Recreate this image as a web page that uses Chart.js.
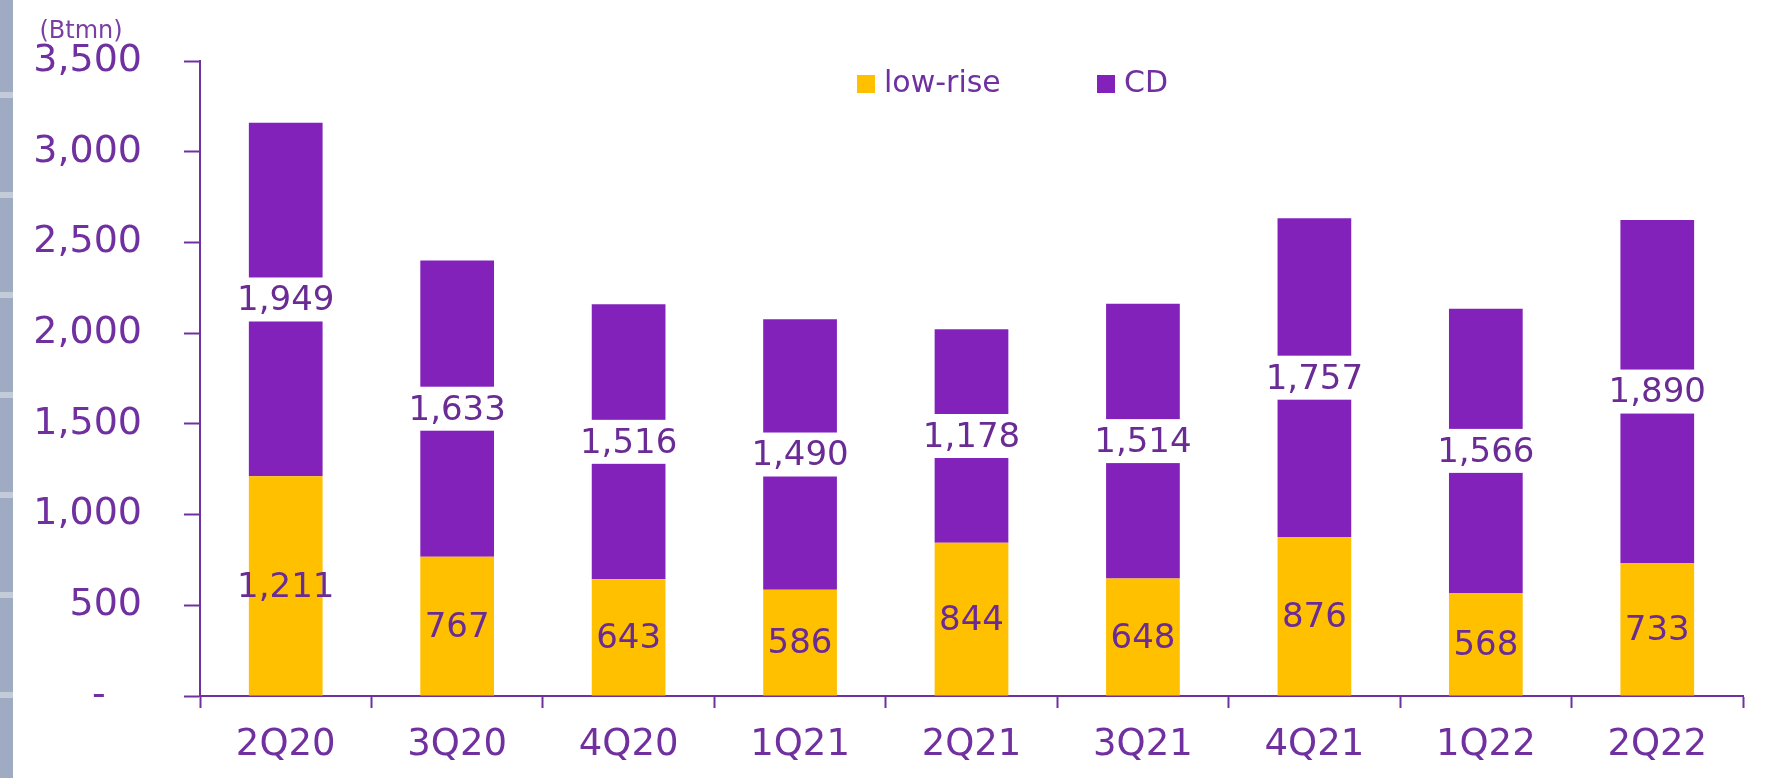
<!DOCTYPE html>
<html>
<head>
<meta charset="utf-8">
<script src="https://cdn.jsdelivr.net/npm/chart.js@4.4.0/dist/chart.umd.min.js"></script>
<style>
  html, body { margin: 0; padding: 0; background: #fff; }
  #wrap { position: relative; width: 1772px; height: 778px; }
  #stripe {
    position: absolute; left: 0; top: 0; width: 13px; height: 778px;
    background: repeating-linear-gradient(180deg, #9fabc2 0px, #9fabc2 92px, #c3cad8 92px, #c3cad8 98px, #9fabc2 98px, #9fabc2 100px);
  }
</style>
</head>
<body>
<div id="wrap">
  <canvas id="chart" width="1772" height="778"></canvas>
  <div id="stripe"></div>
</div>
<script>
// data (Btmn)
const quarters = ["2Q20", "3Q20", "4Q20", "1Q21", "2Q21", "3Q21", "4Q21", "1Q22", "2Q22"];
const lowRise = [1211, 767, 643, 586, 844, 648, 876, 568, 733];
const cd = [1949, 1633, 1516, 1490, 1178, 1514, 1757, 1566, 1890];
const yMax = 3500;
const yStep = 500;

const PURPLE = "#7030a0";
const BAR_PURPLE = "#8222bb";
const YELLOW = "#ffc000";
const FONT = "'DejaVu Sans', Verdana, sans-serif";

const fmt = (v) => v.toLocaleString("en-US");

// value labels in the middle of each segment, CD ones on a white box
const segmentLabels = {
    id: "segmentLabels",
    afterDatasetsDraw(chart) {
        const ctx = chart.ctx;
        ctx.save();
        ctx.font = "34px " + FONT;
        ctx.textAlign = "center";
        ctx.textBaseline = "middle";
        chart.data.datasets.forEach((ds, di) => {
            const meta = chart.getDatasetMeta(di);
            meta.data.forEach((bar, i) => {
                const cy = (bar.y + bar.base) / 2;
                const txt = fmt(ds.data[i]);
                if (ds.label === "CD") {
                    const w = Math.max(ctx.measureText(txt).width, bar.width) + 6;
                    ctx.fillStyle = "#fff";
                    ctx.fillRect(bar.x - w / 2, cy - 22, w, 44);
                }
                ctx.fillStyle = "#6a2c94";
                ctx.fillText(txt, bar.x, cy + 2);
            });
        });
        ctx.restore();
    }
};

// legend and unit label
const extras = {
    id: "extras",
    afterDraw(chart) {
        const ctx = chart.ctx;
        ctx.save();
        ctx.textBaseline = "middle";
        ctx.textAlign = "left";
        ctx.font = "30px " + FONT;
        const items = [
            { text: "low-rise", color: YELLOW, x: 857 },
            { text: "CD", color: BAR_PURPLE, x: 1097 }
        ];
        items.forEach((it) => {
            ctx.fillStyle = it.color;
            ctx.fillRect(it.x, 75, 18, 18);
            ctx.fillStyle = PURPLE;
            ctx.fillText(it.text, it.x + 27, 84);
        });
        ctx.font = "24px " + FONT;
        ctx.textAlign = "center";
        ctx.fillStyle = "#7b3fa3";
        ctx.fillText("(Btmn)", 81, 32);
        ctx.restore();
    }
};

new Chart(document.getElementById("chart"), {
    type: "bar",
    data: {
        labels: quarters,
        datasets: [
            { label: "low-rise", data: lowRise, backgroundColor: YELLOW },
            { label: "CD", data: cd, backgroundColor: BAR_PURPLE }
        ]
    },
    options: {
        responsive: false,
        animation: false,
        layout: { padding: { top: 61, right: 29, left: 0, bottom: 0 } },
        datasets: {
            bar: { categoryPercentage: 1, barPercentage: 0.43 }
        },
        plugins: {
            legend: { display: false },
            tooltip: { enabled: false }
        },
        scales: {
            x: {
                stacked: true,
                ticks: { color: PURPLE, font: { family: FONT, size: 37 }, padding: 15 },
                grid: { drawOnChartArea: false, tickLength: 12, tickColor: PURPLE, tickWidth: 2, offset: true },
                border: { color: PURPLE, width: 2 },
                afterFit(s) { s.height = 82; }
            },
            y: {
                stacked: true,
                min: 0,
                max: yMax,
                ticks: {
                    stepSize: yStep,
                    color: PURPLE,
                    font: { family: FONT, size: 38 },
                    padding: 42,
                    callback: (v) => (v === 0 ? "-   " : fmt(v))
                },
                grid: { drawOnChartArea: false, tickLength: 16, tickColor: PURPLE, tickWidth: 2 },
                border: { color: PURPLE, width: 2 },
                afterFit(s) {
                    s.width = 200;
                    // tick padding is only meant horizontally here
                    s.paddingTop = 0;
                    s.paddingBottom = 0;
                }
            }
        }
    },
    plugins: [segmentLabels, extras]
});
</script>
</body>
</html>
